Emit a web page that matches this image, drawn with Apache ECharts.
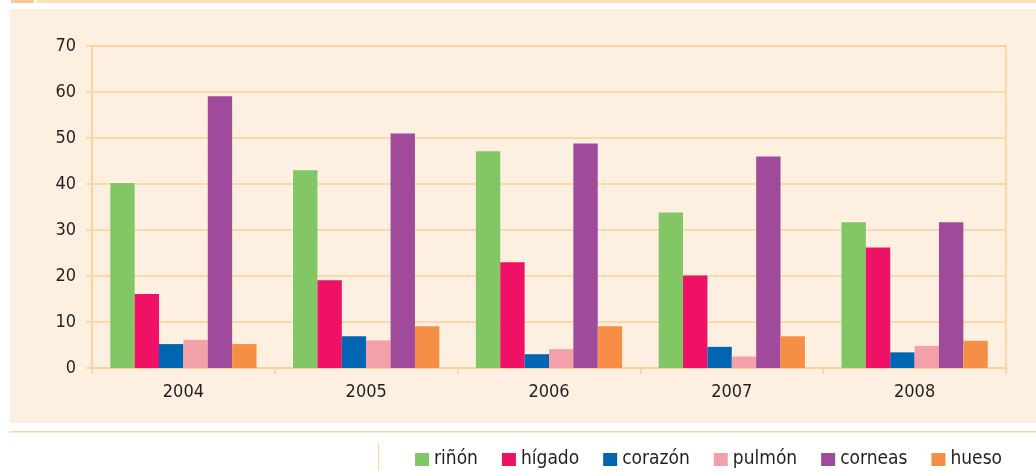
<!DOCTYPE html>
<html>
<head>
<meta charset="utf-8">
<script src="https://cdn.jsdelivr.net/npm/echarts@6/dist/echarts.min.js"></script>
<style>
  html, body { margin: 0; padding: 0; background: #fff; }
  #chart { width: 1036px; height: 471px; }
</style>
</head>
<body>
<div id="chart"></div>
<script>
// datos
const years = ["2004", "2005", "2006", "2007", "2008"];
const rinon = [40.2, 43, 47.1, 33.8, 31.7];
const higado = [16.1, 19.1, 23, 20.1, 26.2];
const corazon = [5.2, 6.9, 3, 4.6, 3.4];
const pulmon = [6.1, 6, 4.1, 2.5, 4.8];
const corneas = [59.1, 51, 48.8, 46, 31.7];
const hueso = [5.2, 9.1, 9.1, 6.9, 5.9];

const seriesNames = ["riñón", "hígado", "corazón", "pulmón", "corneas", "hueso"];
const seriesData = [rinon, higado, corazon, pulmon, corneas, hueso];
const colors = ["#82c665", "#ee1166", "#0066b3", "#f4a0a8", "#9f4a9a", "#f78e45"];

const font = "'DejaVu Sans Condensed', sans-serif";
const lineColor = "#fdd09b";
const textColor = "#231f20";

const chart = echarts.init(document.getElementById("chart"));
chart.setOption({
  animation: false,
  color: colors,
  // fondo y adornos del cuadro
  graphic: [
    { type: "rect", shape: { x: 11, y: 0, width: 23, height: 3 }, style: { fill: "#fbc98f" }, z: -10 },
    { type: "rect", shape: { x: 37, y: 0, width: 999, height: 3 }, style: { fill: "#fddfb9" }, z: -10 },
    { type: "rect", shape: { x: 10, y: 9, width: 1026, height: 414 }, style: { fill: "#fdf0e1" }, z: -10 },
    { type: "rect", shape: { x: 9, y: 431, width: 1027, height: 1.5 }, style: { fill: "#fbd6a6" }, z: -10 },
    { type: "rect", shape: { x: 378, y: 443, width: 1.2, height: 28 }, style: { fill: "#fbd6a6" }, z: -10 },
  ],
  grid: {
    left: 92, right: 30, top: 46, bottom: 103,
    show: true, borderColor: lineColor, borderWidth: 1.5, backgroundColor: "transparent",
  },
  legend: {
    data: seriesNames,
    right: 29, top: 445,
    itemWidth: 14, itemHeight: 13, itemGap: 24,
    icon: "rect",
    textStyle: { fontFamily: font, fontSize: 19, color: textColor },
  },
  xAxis: {
    type: "category",
    data: years,
    axisLine: { lineStyle: { color: lineColor, width: 1.5 } },
    axisTick: { show: true, length: 6, lineStyle: { color: lineColor, width: 1.5 } },
    axisLabel: { fontFamily: font, fontSize: 18, color: textColor, margin: 15 },
  },
  yAxis: {
    type: "value",
    min: 0, max: 70, interval: 10,
    axisLine: { show: true, lineStyle: { color: lineColor, width: 1.5 } },
    axisTick: { show: true, length: 6, lineStyle: { color: lineColor, width: 1.5 } },
    splitLine: { lineStyle: { color: lineColor, width: 1.5 } },
    axisLabel: { fontFamily: font, fontSize: 18, color: textColor, margin: 16 },
  },
  series: seriesNames.map((name, i) => ({
    name: name,
    type: "bar",
    data: seriesData[i],
    barGap: "0%",
    barCategoryGap: "20%",
  })),
});
</script>
</body>
</html>
